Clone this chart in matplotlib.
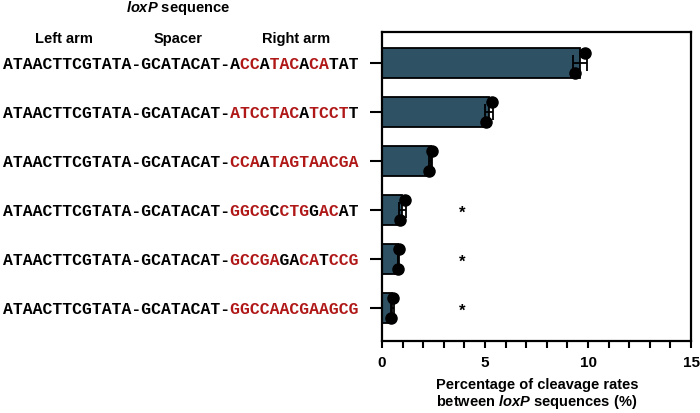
import numpy as np
import matplotlib
matplotlib.use("Agg")
from matplotlib import pyplot as plt
from matplotlib import transforms
from matplotlib.ticker import MultipleLocator

plt.rcParams['font.family'] = ['Liberation Sans', 'DejaVu Sans']
plt.rcParams['font.weight'] = 'bold'
plt.rcParams['mathtext.fontset'] = 'custom'
plt.rcParams['mathtext.it'] = 'Liberation Sans:italic:bold'
plt.rcParams['mathtext.rm'] = 'Liberation Sans:bold'

# data
left_arm = "ATAACTTCGTATA"
spacer = "GCATACAT"
right_arms = ["ACCATACACATAT", "ATCCTACATCCTT", "CCAATAGTAACGA",
              "GGCGCCTGGACAT", "GCCGAGACATCCG", "GGCCAACGAAGCG"]
# r = mutated (red), k = unchanged
right_masks = ["krrkrrrkrrkkk", "rrrrrrrkrrrrk", "rrrkrrrrrrrrr",
               "rrrrkrrrkrrkk", "rrrrrkkrrkrrr", "rrrrrrrrrrrrr"]
rep_high = [9.85, 5.32, 2.41, 1.12, 0.82, 0.55]
rep_low = [9.37, 5.05, 2.30, 0.87, 0.77, 0.46]
significant = [False, False, False, True, True, True]

bar_color = "#2f5164"
red = "#b01818"

fig = plt.figure(figsize=(7, 4.14), dpi=100)
ax = fig.add_axes([0.5457, 0.174, 0.4415, 0.746])

n = len(right_arms)
ypos = np.arange(n)[::-1]
hi = np.array(rep_high)
lo = np.array(rep_low)
means = (hi + lo) / 2
sds = np.std(np.vstack([hi, lo]), axis=0, ddof=1)

ax.barh(ypos, means, height=0.6, color=bar_color, edgecolor='black', linewidth=1.3, zorder=2)
ax.errorbar(means, ypos, xerr=sds, fmt='none', ecolor='black', elinewidth=1.3,
            capsize=6, capthick=1.3, zorder=3)
ax.plot(hi, ypos + 0.21, 'o', color='black', ms=8, zorder=4)
ax.plot(lo, ypos - 0.21, 'o', color='black', ms=8, zorder=4)
for y, s in zip(ypos, significant):
    if s:
        ax.text(3.87, y - 0.05, "*", ha='center', va='center', fontsize=12, fontweight='bold')

ax.set_xlim(0, 15)
ax.set_ylim(-0.67, n - 1 + 0.63)
ax.set_xticks([0, 5, 10, 15])
ax.xaxis.set_minor_locator(MultipleLocator(1))
ax.set_yticks(ypos)
ax.set_yticklabels([])
ax.tick_params(axis='x', which='both', length=5, width=1.5, labelsize=11, pad=5)
ax.tick_params(axis='y', length=9, width=1.5)
for sp in ax.spines.values():
    sp.set_linewidth(1.6)
for lab in ax.get_xticklabels():
    lab.set_fontweight('bold')

fig.text(0.767, 0.069, "Percentage of cleavage rates", ha='center', va='center',
         fontsize=10.5, fontweight='bold')
fig.text(0.767, 0.028, r"between $loxP$ sequences (%)", ha='center', va='center',
         fontsize=10.5, fontweight='bold')

# headers
fig.text(178 / 700, 1 - 8 / 414, r"$loxP$ sequence", ha='center', va='center',
         fontsize=10.5, fontweight='bold')
for label, xc in [("Left arm", 64), ("Spacer", 178), ("Right arm", 296)]:
    fig.text(xc / 700, 1 - 39 / 414, label, ha='center', va='center',
             fontsize=10.5, fontweight='bold')

# sequences, mono font so red/black layers line up
trans = transforms.blended_transform_factory(fig.transFigure, ax.transData)
mono = dict(family='Liberation Mono', fontsize=11.9, fontweight='bold',
            ha='left', va='center', transform=trans)
prefix = left_arm + "-" + spacer + "-"
for y, arm, mask in zip(ypos, right_arms, right_masks):
    black = prefix + "".join(c if m == 'k' else ' ' for c, m in zip(arm, mask))
    redtxt = " " * len(prefix) + "".join(c if m == 'r' else ' ' for c, m in zip(arm, mask))
    ax.text(3 / 700, y, black, color='black', **mono)
    ax.text(3 / 700, y, redtxt, color=red, **mono)

fig.savefig("out.png", dpi=100)
